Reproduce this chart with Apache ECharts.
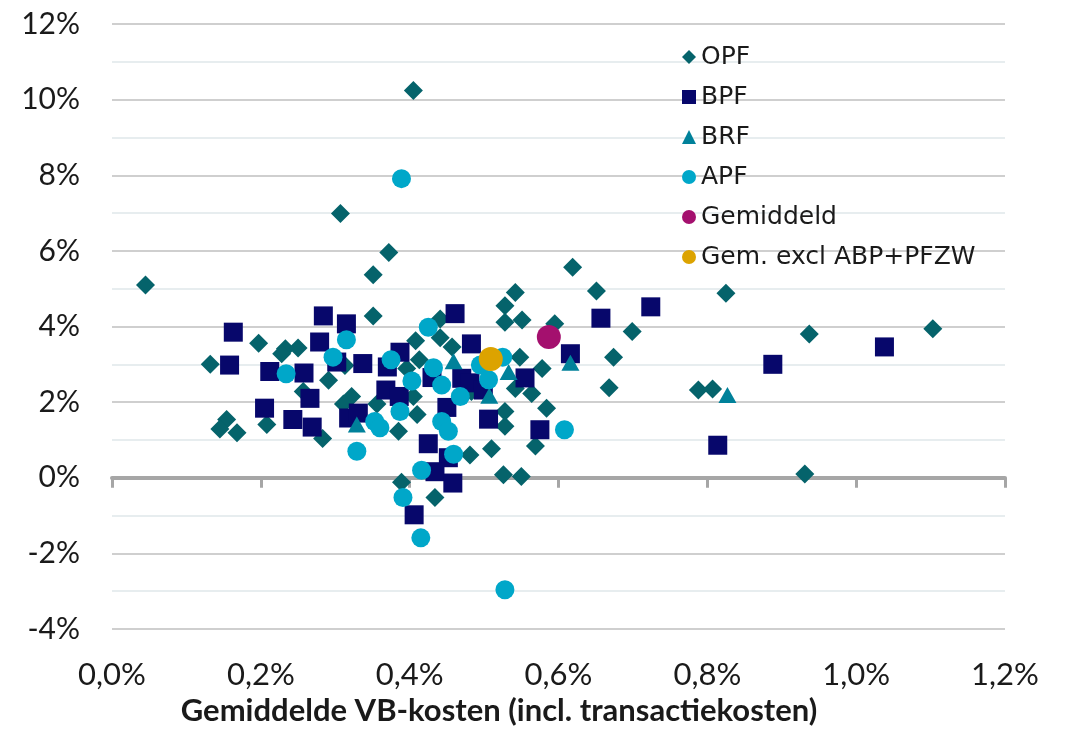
<!DOCTYPE html>
<html>
<head>
<meta charset="UTF-8">
<title></title>
<script src="https://cdn.jsdelivr.net/npm/echarts@6/dist/echarts.min.js"></script>
<style>
  html, body { margin: 0; padding: 0; background: #fff; }
  #chart { width: 1066px; height: 731px; }
</style>
</head>
<body>
<div id="chart"></div>
<script type="text/javascript">
// [VB-kosten %, rendement %]
var opf = [
  [0.045, 5.10], [0.405, 10.24], [0.307, 6.99], [0.372, 5.96], [0.351, 5.37],
  [0.351, 4.28], [0.619, 5.57], [0.651, 4.94], [0.825, 4.88], [0.542, 4.90],
  [0.528, 4.55], [0.551, 4.17], [0.528, 4.11], [0.595, 4.07], [0.699, 3.87],
  [0.674, 3.19], [0.937, 3.80], [1.103, 3.94], [0.668, 2.38], [0.788, 2.32],
  [0.807, 2.35], [0.931, 0.10], [0.548, 3.19], [0.578, 2.89], [0.542, 2.36],
  [0.564, 2.23], [0.584, 1.84], [0.528, 1.75], [0.528, 1.36], [0.569, 0.84],
  [0.526, 0.08], [0.550, 0.03], [0.441, 3.70], [0.441, 4.20], [0.457, 3.46],
  [0.510, 0.77], [0.481, 0.60], [0.408, 3.62], [0.197, 3.56], [0.233, 3.41],
  [0.250, 3.43], [0.228, 3.28], [0.132, 3.00], [0.313, 2.97], [0.413, 3.12],
  [0.291, 2.58], [0.396, 2.89], [0.257, 2.28], [0.322, 2.15], [0.311, 1.95],
  [0.356, 1.95], [0.405, 2.15], [0.283, 1.04], [0.385, 1.23], [0.410, 1.67],
  [0.208, 1.41], [0.154, 1.54], [0.145, 1.29], [0.168, 1.19], [0.389, -0.12],
  [0.434, -0.52], [0.483, 2.28]
];
var bpf = [
  [0.163, 3.85], [0.158, 2.98], [0.212, 2.81], [0.258, 2.77], [0.205, 1.84],
  [0.243, 1.54], [0.269, 1.34], [0.266, 2.10], [0.284, 4.28], [0.279, 3.59],
  [0.315, 4.07], [0.302, 3.06], [0.337, 3.02], [0.370, 2.93], [0.387, 3.32],
  [0.368, 2.32], [0.386, 2.15], [0.318, 1.58], [0.331, 1.71], [0.425, 0.90],
  [0.461, 4.34], [0.483, 3.54], [0.430, 2.65], [0.470, 2.63], [0.481, 2.51],
  [0.499, 2.32], [0.450, 1.86], [0.506, 1.55], [0.452, 0.53], [0.434, 0.16],
  [0.458, -0.14], [0.406, -0.98], [0.555, 2.64], [0.616, 3.28], [0.575, 1.27],
  [0.657, 4.22], [0.724, 4.52], [0.888, 3.00], [1.038, 3.46], [0.814, 0.86]
];
var brf = [
  [0.329, 1.41], [0.459, 3.08], [0.533, 2.80], [0.507, 2.17], [0.616, 3.04], [0.827, 2.19]
];
var apf = [
  [0.389, 7.91], [0.315, 3.65], [0.425, 3.98], [0.297, 3.19], [0.375, 3.12],
  [0.234, 2.75], [0.403, 2.56], [0.432, 2.91], [0.443, 2.45], [0.468, 2.15],
  [0.495, 2.98], [0.525, 3.19], [0.506, 2.59], [0.387, 1.75], [0.353, 1.49],
  [0.360, 1.32], [0.443, 1.49], [0.452, 1.23], [0.329, 0.70], [0.459, 0.62],
  [0.416, 0.20], [0.391, -0.52], [0.415, -1.59], [0.528, -2.96], [0.608, 1.27]
];
var gemiddeld = [[0.587, 3.72]];
var gemExcl = [[0.509, 3.14]];

var seriesNames = ['OPF', 'BPF', 'BRF', 'APF', 'Gemiddeld', 'Gem. excl ABP+PFZW'];
var xName = 'Gemiddelde VB-kosten (incl. transactiekosten)';

var chart = echarts.init(document.getElementById('chart'));

function sc(name, data, symbol, size, color) {
  return {
    name: name,
    type: 'scatter',
    xAxisIndex: 0,
    yAxisIndex: 0,
    symbol: symbol,
    symbolSize: size,
    itemStyle: { color: color, opacity: 1 },
    emphasis: { disabled: true },
    data: data
  };
}

var option = {
  animation: false,
  backgroundColor: '#fff',
  grid: { left: 112, right: 61, top: 24, bottom: 96 },
  legend: {
    orient: 'vertical',
    left: 677,
    top: 39,
    itemWidth: 14,
    itemHeight: 14,
    itemGap: 14,
    textStyle: { fontFamily: 'DejaVu Sans', fontSize: 25, color: '#1a1a1a', lineHeight: 26 },
    data: seriesNames
  },
  xAxis: [
    {
      type: 'value', min: 0, max: 1.2, interval: 0.2,
      axisLine: { onZero: true, lineStyle: { color: '#a6a6a6', width: 4 } },
      axisTick: { show: true, length: 10, lineStyle: { color: '#a6a6a6', width: 3 } },
      axisLabel: { show: false },
      splitLine: { show: false }
    },
    {
      type: 'value', min: 0, max: 1.2, interval: 0.2, position: 'bottom',
      axisLine: { show: false, onZero: false },
      axisTick: { show: false },
      splitLine: { show: false },
      axisLabel: {
        margin: 30, fontFamily: 'Lato', fontSize: 31, color: '#1a1a1a',
        formatter: function (v) { return v.toFixed(1).replace('.', ',') + '%'; }
      },
      name: xName,
      nameLocation: 'middle',
      nameGap: 66,
      nameTextStyle: {
        fontFamily: 'Lato', fontSize: 31, fontWeight: 'bold', color: '#1a1a1a',
        padding: [0, 119, 0, 0]
      }
    }
  ],
  yAxis: {
    type: 'value', min: -4, max: 12, interval: 2,
    axisLine: { show: false },
    axisTick: { show: false },
    axisLabel: {
      margin: 32, fontFamily: 'Lato', fontSize: 30, color: '#1a1a1a',
      padding: [5, 0, 0, 0],
      formatter: function (v) { return v + '%'; }
    },
    splitLine: { show: true, lineStyle: { color: '#bfbfbf', width: 1.5 } },
    minorTick: { show: false, splitNumber: 2 },
    minorSplitLine: { show: true, lineStyle: { color: '#dfe7ea', width: 1.5 } }
  },
  series: [
    sc(seriesNames[0], opf, 'diamond', 19, '#05636b'),
    sc(seriesNames[1], bpf, 'rect', 19, '#07076b'),
    sc(seriesNames[2], brf, 'triangle', [18, 16], '#00819a'),
    sc(seriesNames[3], apf, 'circle', 19, '#00a7c9'),
    sc(seriesNames[4], gemiddeld, 'circle', 24, '#a4106e'),
    sc(seriesNames[5], gemExcl, 'circle', 24, '#dca300')
  ]
};

chart.setOption(option);
</script>
</body>
</html>
